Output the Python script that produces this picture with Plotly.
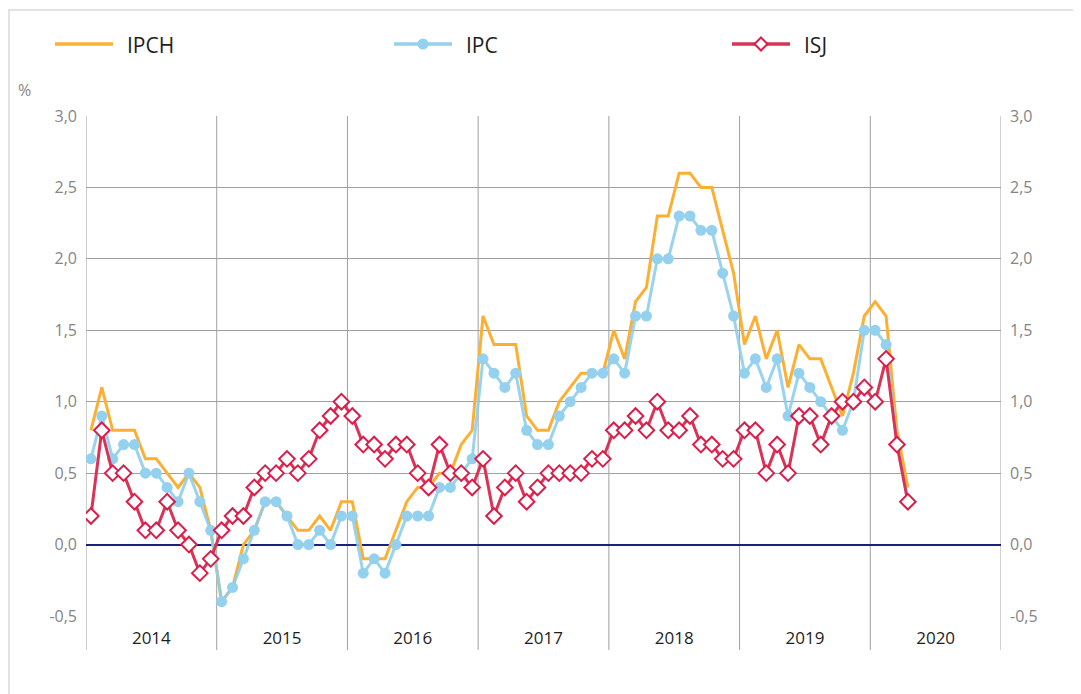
import plotly.graph_objects as go

# ---------------- data ----------------
years = ["2014", "2015", "2016", "2017", "2018", "2019", "2020"]
n_months = 76  # Jan 2014 .. Apr 2020

ipch = [0.8, 1.1, 0.8, 0.8, 0.8, 0.6, 0.6, 0.5, 0.4, 0.5, 0.4, 0.1,
        -0.4, -0.3, 0.0, 0.1, 0.3, 0.3, 0.2, 0.1, 0.1, 0.2, 0.1, 0.3,
        0.3, -0.1, -0.1, -0.1, 0.1, 0.3, 0.4, 0.4, 0.5, 0.5, 0.7, 0.8,
        1.6, 1.4, 1.4, 1.4, 0.9, 0.8, 0.8, 1.0, 1.1, 1.2, 1.2, 1.2,
        1.5, 1.3, 1.7, 1.8, 2.3, 2.3, 2.6, 2.6, 2.5, 2.5, 2.2, 1.9,
        1.4, 1.6, 1.3, 1.5, 1.1, 1.4, 1.3, 1.3, 1.1, 0.9, 1.2, 1.6,
        1.7, 1.6, 0.8, 0.4]

ipc = [0.6, 0.9, 0.6, 0.7, 0.7, 0.5, 0.5, 0.4, 0.3, 0.5, 0.3, 0.1,
       -0.4, -0.3, -0.1, 0.1, 0.3, 0.3, 0.2, 0.0, 0.0, 0.1, 0.0, 0.2,
       0.2, -0.2, -0.1, -0.2, 0.0, 0.2, 0.2, 0.2, 0.4, 0.4, 0.5, 0.6,
       1.3, 1.2, 1.1, 1.2, 0.8, 0.7, 0.7, 0.9, 1.0, 1.1, 1.2, 1.2,
       1.3, 1.2, 1.6, 1.6, 2.0, 2.0, 2.3, 2.3, 2.2, 2.2, 1.9, 1.6,
       1.2, 1.3, 1.1, 1.3, 0.9, 1.2, 1.1, 1.0, 0.9, 0.8, 1.0, 1.5,
       1.5, 1.4, 0.7, 0.3]

isj = [0.2, 0.8, 0.5, 0.5, 0.3, 0.1, 0.1, 0.3, 0.1, 0.0, -0.2, -0.1,
       0.1, 0.2, 0.2, 0.4, 0.5, 0.5, 0.6, 0.5, 0.6, 0.8, 0.9, 1.0,
       0.9, 0.7, 0.7, 0.6, 0.7, 0.7, 0.5, 0.4, 0.7, 0.5, 0.5, 0.4,
       0.6, 0.2, 0.4, 0.5, 0.3, 0.4, 0.5, 0.5, 0.5, 0.5, 0.6, 0.6,
       0.8, 0.8, 0.9, 0.8, 1.0, 0.8, 0.8, 0.9, 0.7, 0.7, 0.6, 0.6,
       0.8, 0.8, 0.5, 0.7, 0.5, 0.9, 0.9, 0.7, 0.9, 1.0, 1.0, 1.1,
       1.0, 1.3, 0.7, 0.3]

y_ticks = [-0.5, 0.0, 0.5, 1.0, 1.5, 2.0, 2.5, 3.0]
y_ticktext = [f"{v:.1f}".replace(".", ",") for v in y_ticks]

# ---------------- layout helpers ----------------
# The page body adds an 8 px margin, so the figure is sized/offset for it.
OFF = 8
W, H = 1081 - OFF, 694 - OFF
L, T = 86 - OFF, 116 - OFF
PW, PH = 915, 500
R, B = W - L - PW, H - T - PH

def px_x(p):  # screen x -> paper
    return (p - OFF - L) / PW

def px_y(p):  # screen y -> paper
    return (T + PH - (p - OFF)) / PH

offset = 0.45
months = list(range(n_months))
boundaries = [12 * k - offset for k in range(len(years) + 1)]
centers = [12 * k + 6 - offset for k in range(len(years))]

C_IPCH = "#FBB034"
C_IPC = "rgba(140,205,236,0.88)"
C_ISJ = "#D93358"
GRID = "#a0a0a0"
TICK = "#858585"
TXT = "#1e1e1e"
FONT = "Open Sans"

fig = go.Figure()
fig.add_trace(go.Scatter(x=months, y=ipch, mode="lines", name="IPCH",
                         line=dict(color=C_IPCH, width=3), showlegend=False))
fig.add_trace(go.Scatter(x=months, y=ipc, mode="lines+markers", name="IPC",
                         line=dict(color=C_IPC, width=3),
                         marker=dict(symbol="circle", size=11, color="#93D1EE"),
                         showlegend=False))
fig.add_trace(go.Scatter(x=months, y=isj, mode="lines+markers", name="ISJ",
                         yaxis="y2",
                         line=dict(color=C_ISJ, width=3),
                         marker=dict(symbol="diamond", size=12, color="white",
                                     line=dict(color="#D81E4A", width=2)),
                         showlegend=False))

shapes = []
# year separators extending below the plot area
for b in boundaries:
    shapes.append(dict(type="line", xref="x", yref="paper", x0=b, x1=b,
                       y0=px_y(650), y1=1, line=dict(color=GRID, width=1),
                       layer="below"))
# outer light frame
shapes.append(dict(type="rect", xref="paper", yref="paper",
                   x0=px_x(9), x1=px_x(1095), y0=px_y(710), y1=px_y(10),
                   line=dict(color="#e2e2e2", width=2), layer="below"))

# custom legend
legend_items = [("IPCH", C_IPCH, None, 55),
                ("IPC", "#93D1EE", "circle", 394),
                ("ISJ", C_ISJ, "diamond", 732)]
annotations = []
ly = 44
for name, col, sym, x0 in legend_items:
    shapes.append(dict(type="line", xref="paper", yref="paper",
                       x0=px_x(x0), x1=px_x(x0 + 58), y0=px_y(ly), y1=px_y(ly),
                       line=dict(color=col, width=3.5)))
    cx = x0 + 29
    if sym == "circle":
        r = 5.5
        shapes.append(dict(type="circle", xref="paper", yref="paper",
                           x0=px_x(cx - r), x1=px_x(cx + r),
                           y0=px_y(ly + r), y1=px_y(ly - r),
                           fillcolor=col, line=dict(color=col, width=0)))
    elif sym == "diamond":
        r = 6.5
        pts = [(cx, ly - r), (cx + r, ly), (cx, ly + r), (cx - r, ly)]
        path = "M " + " L ".join(f"{px_x(a):.5f},{px_y(b):.5f}" for a, b in pts) + " Z"
        shapes.append(dict(type="path", xref="paper", yref="paper", path=path,
                           fillcolor="white", line=dict(color="#D81E4A", width=2)))
    annotations.append(dict(text=name, xref="paper", yref="paper",
                            x=px_x(x0 + 70), y=px_y(ly + 1), xanchor="left",
                            yanchor="middle", showarrow=False,
                            font=dict(family=FONT, size=21, color=TXT)))

annotations.append(dict(text="%", xref="paper", yref="paper",
                        x=px_x(16), y=px_y(90), xanchor="left", yanchor="middle",
                        showarrow=False, font=dict(family=FONT, size=16, color=TICK)))

yaxis_common = dict(range=[-0.5, 3.0], tickvals=y_ticks, ticktext=y_ticktext,
                    tickfont=dict(family=FONT, size=16, color=TICK),
                    ticks="", ticklabelstandoff=8, fixedrange=True)

fig.update_layout(
    width=W, height=H,
    margin=dict(l=L, r=R, t=T, b=B),
    paper_bgcolor="white", plot_bgcolor="white",
    separators=", ",
    showlegend=False,
    xaxis=dict(range=[boundaries[0], boundaries[-1]], tickvals=centers,
               ticktext=years, ticks="", showgrid=False, zeroline=False,
               showline=False, ticklabelstandoff=10,
               tickfont=dict(family=FONT, size=17, color=TXT)),
    yaxis=dict(**yaxis_common, showgrid=True, gridcolor=GRID, gridwidth=1,
               zeroline=True, zerolinecolor="#1c1f7c", zerolinewidth=1.6,
               side="left"),
    yaxis2=dict(**yaxis_common, overlaying="y", side="right", matches="y",
                showgrid=False, zeroline=False),
    shapes=shapes,
    annotations=annotations,
)

fig.write_html("out.html")
